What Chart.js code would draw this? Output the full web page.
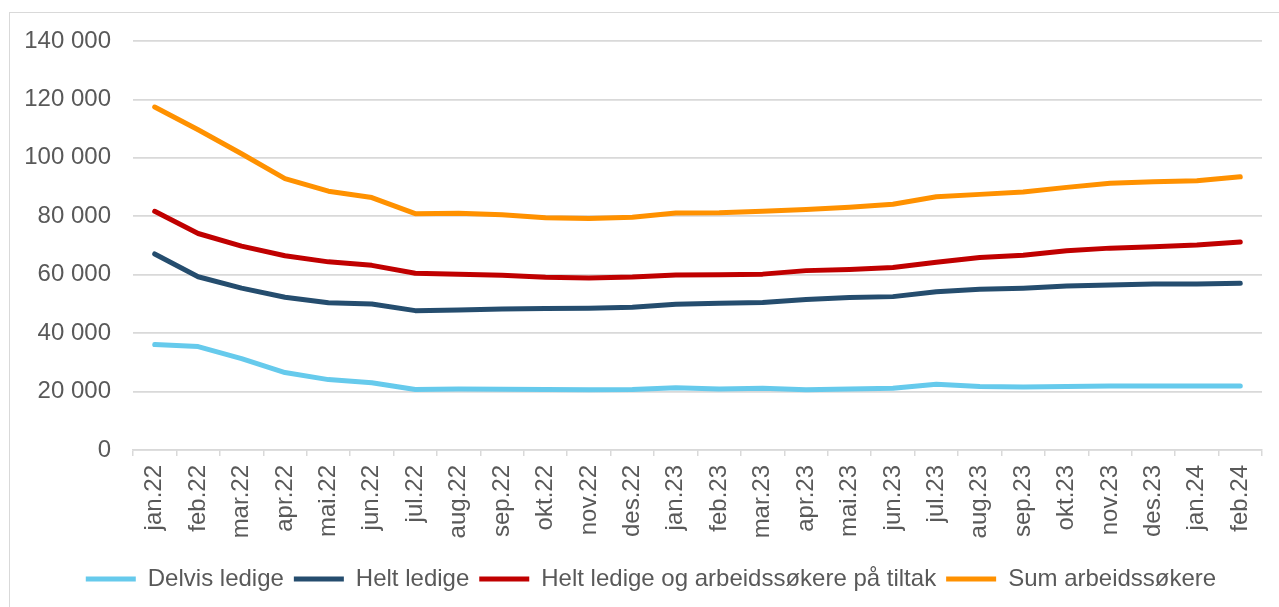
<!DOCTYPE html>
<html>
<head>
<meta charset="utf-8">
<script src="https://cdn.jsdelivr.net/npm/chart.js@4.4.1/dist/chart.umd.min.js"></script>
<style>
  body { margin: 0; background: #fff; }
  #box { position: absolute; left: 9px; top: 12px; width: 1269px; height: 594px; border: 1px solid #d9d9d9; border-right: none; border-bottom: none; }
  canvas { display: block; }
</style>
</head>
<body>
<div id="box"><canvas id="myChart" width="1269" height="594"></canvas></div>
<script>
var months = ['jan.22', 'feb.22', 'mar.22', 'apr.22', 'mai.22', 'jun.22', 'jul.22', 'aug.22', 'sep.22', 'okt.22', 'nov.22', 'des.22',
	'jan.23', 'feb.23', 'mar.23', 'apr.23', 'mai.23', 'jun.23', 'jul.23', 'aug.23', 'sep.23', 'okt.23', 'nov.23', 'des.23',
	'jan.24', 'feb.24'];

var delvisLedige = [36100, 35400, 31300, 26500, 24100, 23000, 20700, 20900, 20800, 20700, 20600, 20700,
	21300, 20900, 21100, 20600, 20900, 21100, 22500, 21700, 21600, 21700, 21900, 21900, 21900, 21900];
var heltLedige = [67100, 59300, 55400, 52300, 50400, 50000, 47700, 47900, 48300, 48400, 48500, 48900,
	49900, 50200, 50500, 51500, 52200, 52500, 54200, 55000, 55400, 56100, 56500, 56800, 56800, 57100];
var heltLedigeTiltak = [81700, 74100, 69800, 66500, 64400, 63200, 60500, 60200, 59800, 59100, 58900, 59200,
	59900, 60000, 60200, 61400, 61800, 62500, 64300, 65900, 66700, 68200, 69100, 69600, 70200, 71200];
var sumArbeidssokere = [117400, 109600, 101400, 92900, 88600, 86400, 80900, 81000, 80500, 79500, 79200, 79700,
	81100, 81200, 81700, 82300, 83100, 84100, 86700, 87500, 88300, 89900, 91300, 91800, 92200, 93500];

var yTicks = [0, 20000, 40000, 60000, 80000, 100000, 120000, 140000];

var textColor = '#595959';
var gridColor = '#d9d9d9';
var fontFamily = 'Arial, "Liberation Sans", sans-serif';

function fmt(v) {
	return String(v).replace(/\B(?=(\d{3})+(?!\d))/g, ' ');
}

function line(label, values, color) {
	return {
		label: label,
		data: values,
		borderColor: color,
		backgroundColor: color,
		borderWidth: 5,
		borderCapStyle: 'round',
		borderJoinStyle: 'round',
		pointRadius: 0,
		pointHoverRadius: 0,
		tension: 0,
		fill: false
	};
}

// legend sits a little right of centre in the original
var legendShift = {
	id: 'legendShift',
	afterLayout: function(chart) {
		chart.legend.left += 15;
		chart.legend.right += 15;
	}
};

var ctx = document.getElementById('myChart').getContext('2d');
var myChart = new Chart(ctx, {
	type: 'line',
	data: {
		labels: months,
		datasets: [
			line('Delvis ledige', delvisLedige, '#66caec'),
			line('Helt ledige', heltLedige, '#254d6e'),
			line('Helt ledige og arbeidssøkere på tiltak', heltLedigeTiltak, '#c00000'),
			line('Sum arbeidssøkere', sumArbeidssokere, '#ff9100')
		]
	},
	plugins: [legendShift],
	options: {
		responsive: false,
		animation: false,
		layout: { padding: { top: 28, right: 17, bottom: 6, left: 0 } },
		plugins: {
			tooltip: { enabled: false },
			legend: {
				position: 'bottom',
				labels: {
					usePointStyle: true,
					pointStyle: 'line',
					pointStyleWidth: 50,
					padding: 10,
					color: textColor,
					font: { family: fontFamily, size: 24 }
				}
			}
		},
		scales: {
			x: {
				offset: true,
				grid: { offset: true, drawOnChartArea: false, color: gridColor, lineWidth: 1.5, tickLength: 6 },
				border: { display: true, color: gridColor, width: 1.5 },
				ticks: {
					color: textColor,
					font: { family: fontFamily, size: 24 },
					minRotation: 90,
					maxRotation: 90,
					autoSkip: false,
					padding: 9
				},
				afterFit: function(scale) { scale.height = 107; }
			},
			y: {
				min: 0,
				max: 140000,
				afterBuildTicks: function(scale) {
					scale.ticks = yTicks.map(function(v) { return { value: v }; });
				},
				grid: { color: gridColor, lineWidth: 1.8, drawTicks: false },
				border: { display: false },
				ticks: {
					color: textColor,
					font: { family: fontFamily, size: 24 },
					padding: 22,
					callback: function(v) { return fmt(v); }
				},
				afterFit: function(scale) {
					scale.width = 123;
					scale.paddingTop = 0;
					scale.paddingBottom = 0;
				}
			}
		}
	}
});
</script>
</body>
</html>
